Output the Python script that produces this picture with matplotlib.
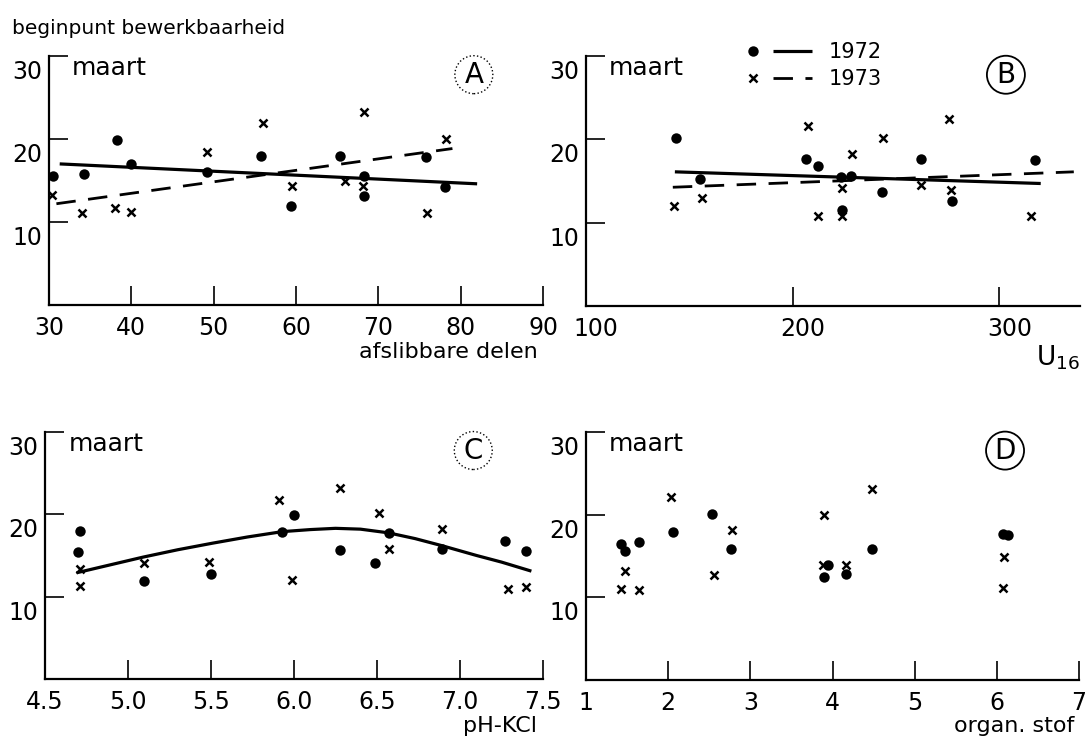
import matplotlib
matplotlib.use("Agg")
import matplotlib.pyplot as plt
from matplotlib.lines import Line2D
from matplotlib.legend_handler import HandlerTuple
from matplotlib.transforms import ScaledTranslation

plt.rcParams['font.family'] = ['DejaVu Sans']

# ---------------- data ----------------
A_x72 = [30.5, 34.3, 38.3, 40.0, 49.2, 55.8, 59.4, 65.4, 68.3, 68.2, 75.8, 78.1]
A_y72 = [15.5, 15.8, 19.9, 17.0, 16.0, 18.0, 11.9, 17.9, 15.6, 13.1, 17.8, 14.2]
A_x73 = [30.4, 34.0, 38.0, 40.0, 49.2, 56.0, 59.5, 66.0, 68.3, 68.1, 75.9, 78.2]
A_y73 = [13.3, 11.1, 11.7, 11.2, 18.4, 21.9, 14.3, 14.9, 23.3, 14.3, 11.1, 20.0]
A_fit72_x = [31.3, 82.0]
A_fit72_y = [17.0, 14.6]
A_fit73_x = [30.9, 79.0]
A_fit73_y = [12.2, 18.85]

B_x72 = [143.6, 155.2, 206.5, 212.4, 223.5, 228.0, 224.0, 243.2, 261.9, 277.0, 317.0]
B_y72 = [20.2, 15.3, 17.6, 16.8, 15.5, 15.6, 11.5, 13.7, 17.6, 12.6, 17.5]
B_x73 = [142.8, 156.0, 207.3, 212.4, 228.6, 224.0, 224.0, 243.5, 262.0, 275.4, 276.8, 315.5]
B_y73 = [12.0, 13.0, 21.6, 10.8, 18.2, 14.2, 10.8, 20.1, 14.5, 22.5, 13.9, 10.8]
B_fit72_x = [143.0, 320.0]
B_fit72_y = [16.1, 14.7]
B_fit73_x = [142.0, 336.0]
B_fit73_y = [14.25, 16.1]

C_x72 = [4.71, 4.70, 5.095, 5.50, 5.93, 6.00, 6.275, 6.49, 6.57, 6.89, 7.27, 7.40]
C_y72 = [18.0, 15.4, 11.85, 12.8, 17.8, 19.9, 15.7, 14.1, 17.75, 15.8, 16.8, 15.6]
C_x73 = [4.71, 4.71, 5.095, 5.49, 5.91, 5.99, 6.28, 6.51, 6.57, 6.89, 7.29, 7.40]
C_y73 = [13.3, 11.3, 14.1, 14.2, 21.75, 12.0, 23.25, 20.15, 15.8, 18.2, 10.9, 11.2]
C_curve_x = [4.69, 5.09, 5.30, 5.51, 5.72, 5.93, 6.10, 6.25, 6.40, 6.57, 6.73, 6.89, 7.10, 7.25, 7.43]
C_curve_y = [12.9, 14.8, 15.7, 16.5, 17.25, 17.9, 18.15, 18.3, 18.2, 17.75, 17.05, 16.2, 15.0, 14.2, 13.1]

D_x72 = [1.42, 1.48, 1.64, 2.06, 2.53, 2.77, 3.90, 3.95, 4.17, 4.48, 6.08, 6.13]
D_y72 = [16.4, 15.65, 16.7, 17.9, 20.1, 15.9, 12.4, 13.9, 12.8, 15.9, 17.7, 17.5]
D_x73 = [1.43, 1.47, 1.64, 2.03, 2.56, 2.78, 3.89, 3.90, 4.17, 4.48, 6.07, 6.09]
D_y73 = [11.05, 13.2, 10.85, 22.1, 12.7, 18.2, 13.9, 19.9, 13.9, 23.1, 11.1, 14.9]

y_ticks = [10, 20, 30]
y_ticklabels = ['10', '20', '30']
A_xticks = [30, 40, 50, 60, 70, 80, 90]
A_xticklabels = ['30', '40', '50', '60', '70', '80', '90']
B_xticks = [100, 200, 300]
B_xticklabels = ['100', '200', '300']
C_xticks = [4.5, 5.0, 5.5, 6.0, 6.5, 7.0, 7.5]
C_xticklabels = ['4.5', '5.0', '5.5', '6.0', '6.5', '7.0', '7.5']
D_xticks = [1, 2, 3, 4, 5, 6, 7]
D_xticklabels = ['1', '2', '3', '4', '5', '6', '7']

# ---------------- figure ----------------
W, H = 1090, 747
fig = plt.figure(figsize=(W / 100, H / 100), dpi=100)


def px_axes(left, right, top, bottom):
    return fig.add_axes([left / W, 1 - bottom / H, (right - left) / W, (bottom - top) / H])


axA = px_axes(49, 543, 56, 305)
axB = px_axes(586, 1080, 56, 306)
axC = px_axes(45, 543, 432, 679)
axD = px_axes(586, 1079, 432, 680)

dot_kw = dict(marker='o', ms=7.5, color='black', ls='none', mew=0)
x_kw = dict(marker='x', ms=6, color='black', ls='none', mew=1.8)
solid_kw = dict(color='black', lw=2.3, solid_capstyle='butt')
dash_kw = dict(color='black', lw=2.0, ls=(0, (7, 4.5)))

panels = [
    (axA, (30, 90), A_xticks, A_xticklabels, 'afslibbare delen', 'A', ':'),
    (axB, (100, 339), B_xticks, B_xticklabels, r'$\mathregular{U_{16}}$', 'B', '-'),
    (axC, (4.5, 7.5), C_xticks, C_xticklabels, 'pH-KCl', 'C', ':'),
    (axD, (1, 7), D_xticks, D_xticklabels, 'organ. stof', 'D', '-'),
]

for ax, xlim, xt, xtl, xlabel, letter, cls in panels:
    ax.set_xlim(*xlim)
    ax.set_ylim(0, 30)
    for s in ('top', 'right'):
        ax.spines[s].set_visible(False)
    for s in ('left', 'bottom'):
        ax.spines[s].set_linewidth(1.6)
    ax.set_xticks(xt, xtl)
    ax.set_yticks(y_ticks, y_ticklabels, va='top')
    ax.tick_params(axis='both', direction='in', length=14, width=1.2, labelsize=17)
    ax.tick_params(axis='x', pad=8)
    ax.tick_params(axis='y', pad=5)
    for lab in ax.get_yticklabels():
        lab.set_transform(lab.get_transform() + ScaledTranslation(0, -4 / 100, fig.dpi_scale_trans))
    ax.text(0.047, 0.952, 'maart', transform=ax.transAxes, fontsize=18,
            ha='left', va='center')
    ax.set_xlabel(xlabel, loc='right', fontsize=16 if letter != 'B' else 19, va='center')
    ax.patch.set_visible(False)
    ax.text(0.86 if letter in 'AC' else 0.85, 0.925, letter, transform=ax.transAxes,
            fontsize=20, ha='center', va='center',
            bbox=dict(boxstyle='circle,pad=0.18', fc='none', ec='black',
                      lw=1.0 if cls == ':' else 1.3, ls=cls))

for lab in axB.get_xticklabels():
    lab.set_transform(lab.get_transform() + ScaledTranslation(10 / 100, 0, fig.dpi_scale_trans))

axA.xaxis.set_label_coords(0.99, -0.19)
axB.xaxis.set_label_coords(1.0, -0.205)
axC.xaxis.set_label_coords(0.988, -0.19)
axD.xaxis.set_label_coords(0.99, -0.187)

# Panel A
axA.plot(A_x72, A_y72, **dot_kw)
axA.plot(A_x73, A_y73, **x_kw)
axA.plot(A_fit72_x, A_fit72_y, **solid_kw)
axA.plot(A_fit73_x, A_fit73_y, **dash_kw)

# Panel B
axB.plot(B_x72, B_y72, **dot_kw)
axB.plot(B_x73, B_y73, **x_kw)
axB.plot(B_fit72_x, B_fit72_y, **solid_kw)
axB.plot(B_fit73_x, B_fit73_y, **dash_kw)

# Panel C
axC.plot(C_x72, C_y72, **dot_kw)
axC.plot(C_x73, C_y73, **x_kw)
axC.plot(C_curve_x, C_curve_y, **solid_kw)

# Panel D
axD.plot(D_x72, D_y72, **dot_kw)
axD.plot(D_x73, D_y73, **x_kw)

# Legend
h72 = (Line2D([], [], **dot_kw), Line2D([], [], **solid_kw))
h73 = (Line2D([], [], **x_kw), Line2D([], [], **dash_kw))
fig.legend([h72, h73], ['1972', '1973'],
           handler_map={tuple: HandlerTuple(ndivide=None, pad=0)},
           loc='upper left', bbox_to_anchor=(733 / W, 1 - 42 / H),
           frameon=False, fontsize=15, handlelength=3.8, handletextpad=0.8,
           labelspacing=0.35, borderpad=0, borderaxespad=0)

fig.text(12 / W, 1 - 28 / H, 'beginpunt bewerkbaarheid', fontsize=14.5,
         ha='left', va='center')

fig.savefig('out.png', dpi=100)
